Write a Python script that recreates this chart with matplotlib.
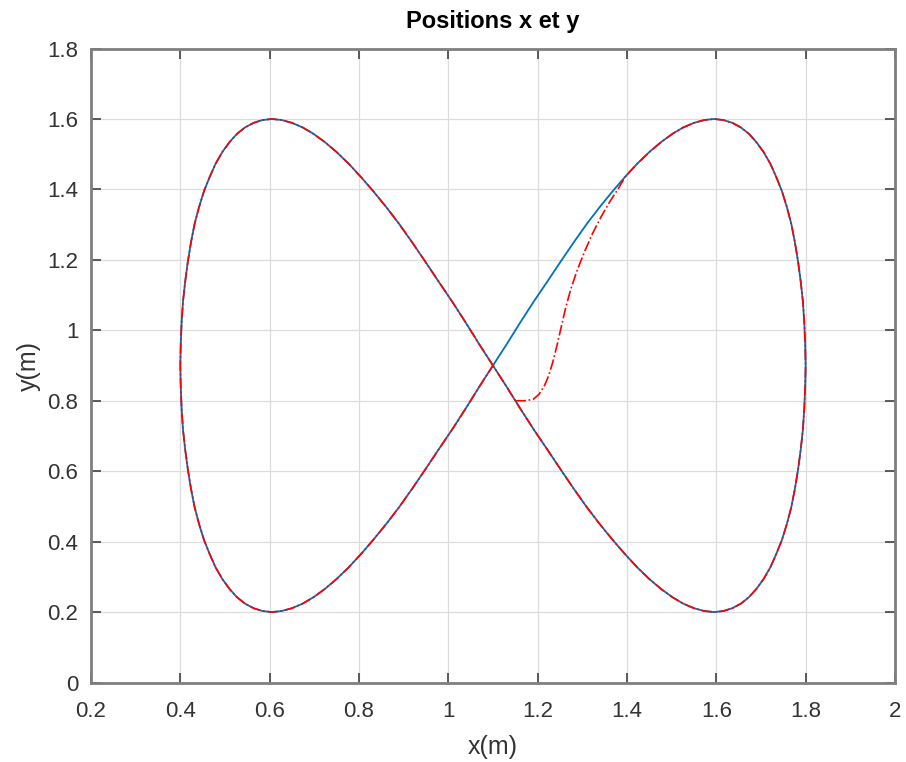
import matplotlib
matplotlib.use("Agg")
import matplotlib.pyplot as plt

plt.rcParams['font.family'] = ['Liberation Sans', 'DejaVu Sans']

# reference path, right lobe (from the crossing, up-right, round and back)
right_x = [1.100, 1.131, 1.161, 1.191, 1.222, 1.252, 1.281, 1.310, 1.339, 1.368,
           1.396, 1.423, 1.450, 1.476, 1.502, 1.526, 1.550, 1.573, 1.595, 1.616,
           1.636, 1.655, 1.673, 1.690, 1.706, 1.721, 1.734, 1.747, 1.758, 1.768,
           1.776, 1.783, 1.789, 1.794, 1.797, 1.799, 1.800,
           1.799, 1.797, 1.794, 1.789, 1.783, 1.776, 1.768, 1.758, 1.747, 1.734,
           1.721, 1.706, 1.690, 1.673, 1.655, 1.636, 1.616, 1.595, 1.573, 1.550,
           1.526, 1.502, 1.476, 1.450, 1.423, 1.396, 1.368, 1.339, 1.310, 1.281,
           1.252, 1.222, 1.191, 1.161, 1.131, 1.100]
right_y = [0.900, 0.961, 1.022, 1.081, 1.139, 1.196, 1.250, 1.302, 1.350, 1.395,
           1.436, 1.473, 1.506, 1.534, 1.558, 1.576, 1.589, 1.597, 1.600, 1.597,
           1.589, 1.576, 1.558, 1.534, 1.506, 1.473, 1.436, 1.395, 1.350, 1.302,
           1.250, 1.196, 1.139, 1.081, 1.022, 0.961, 0.900,
           0.839, 0.778, 0.719, 0.661, 0.604, 0.550, 0.498, 0.450, 0.405, 0.364,
           0.327, 0.294, 0.266, 0.242, 0.224, 0.211, 0.203, 0.200, 0.203, 0.211,
           0.224, 0.242, 0.266, 0.294, 0.327, 0.364, 0.405, 0.450, 0.498, 0.550,
           0.604, 0.661, 0.719, 0.778, 0.839, 0.900]

# reference path, left lobe (from the crossing, up-left, round and back)
left_x = [1.069, 1.039, 1.009, 0.978, 0.948, 0.919, 0.890, 0.861, 0.832, 0.804,
          0.777, 0.750, 0.724, 0.698, 0.674, 0.650, 0.627, 0.605, 0.584, 0.564,
          0.545, 0.527, 0.510, 0.494, 0.479, 0.466, 0.453, 0.442, 0.432, 0.424,
          0.417, 0.411, 0.406, 0.403, 0.401, 0.400,
          0.401, 0.403, 0.406, 0.411, 0.417, 0.424, 0.432, 0.442, 0.453, 0.466,
          0.479, 0.494, 0.510, 0.527, 0.545, 0.564, 0.584, 0.605, 0.627, 0.650,
          0.674, 0.698, 0.724, 0.750, 0.777, 0.804, 0.832, 0.861, 0.890, 0.919,
          0.948, 0.978, 1.009, 1.039, 1.069, 1.100]
left_y = [0.961, 1.022, 1.081, 1.139, 1.196, 1.250, 1.302, 1.350, 1.395, 1.436,
          1.473, 1.506, 1.534, 1.558, 1.576, 1.589, 1.597, 1.600, 1.597, 1.589,
          1.576, 1.558, 1.534, 1.506, 1.473, 1.436, 1.395, 1.350, 1.302, 1.250,
          1.196, 1.139, 1.081, 1.022, 0.961, 0.900,
          0.839, 0.778, 0.719, 0.661, 0.604, 0.550, 0.498, 0.450, 0.405, 0.364,
          0.327, 0.294, 0.266, 0.242, 0.224, 0.211, 0.203, 0.200, 0.203, 0.211,
          0.224, 0.242, 0.266, 0.294, 0.327, 0.364, 0.405, 0.450, 0.498, 0.550,
          0.604, 0.661, 0.719, 0.778, 0.839, 0.900]

# actual trajectory: start-up transient before it joins the reference
start_x = [1.150, 1.170, 1.190, 1.203, 1.215, 1.225, 1.234, 1.243, 1.252,
           1.262, 1.274, 1.289, 1.306, 1.323, 1.342, 1.362, 1.382]
start_y = [0.800, 0.800, 0.804, 0.818, 0.842, 0.872, 0.910, 0.955, 1.005,
           1.060, 1.116, 1.172, 1.226, 1.275, 1.322, 1.366, 1.405]
join_idx = 10  # point of right_x/right_y where the tracking catches up

ref_x = right_x + left_x
ref_y = right_y + left_y
real_x = start_x + ref_x[join_idx:]
real_y = start_y + ref_y[join_idx:]

fig = plt.figure(figsize=(9.06, 7.62), dpi=100)
ax = fig.add_axes([0.1004, 0.1043, 0.8874, 0.832])

ax.plot(ref_x, ref_y, color='#0072BD', lw=1.3)
ax.plot(real_x, real_y, color='red', lw=1.2, ls='-.')

ax.set_xlim(0.2, 2)
ax.set_ylim(0, 1.8)
ax.set_xticks([0.2, 0.4, 0.6, 0.8, 1, 1.2, 1.4, 1.6, 1.8, 2])
ax.set_xticklabels(['0.2', '0.4', '0.6', '0.8', '1', '1.2', '1.4', '1.6', '1.8', '2'])
ax.set_yticks([0, 0.2, 0.4, 0.6, 0.8, 1, 1.2, 1.4, 1.6, 1.8])
ax.set_yticklabels(['0', '0.2', '0.4', '0.6', '0.8', '1', '1.2', '1.4', '1.6', '1.8'])
ax.grid(True, color='#dcdcdc', lw=0.9)
ax.set_axisbelow(True)

ax.tick_params(direction='in', length=7, width=1.2, colors='#404040',
               labelsize=16, top=True, right=True, labelcolor='#333333')
ax.tick_params(axis='x', pad=13)
ax.tick_params(axis='y', pad=9)
for s in ax.spines.values():
    s.set_color('#7f7f7f')
    s.set_linewidth(2)

ax.set_title('Positions x et y', fontsize=17, fontweight='bold', pad=15)
ax.set_xlabel('x(m)', fontsize=18, color='#333333', labelpad=10)
ax.set_ylabel('y(m)', fontsize=18, color='#333333', labelpad=5)

fig.savefig('out.png', dpi=100)
